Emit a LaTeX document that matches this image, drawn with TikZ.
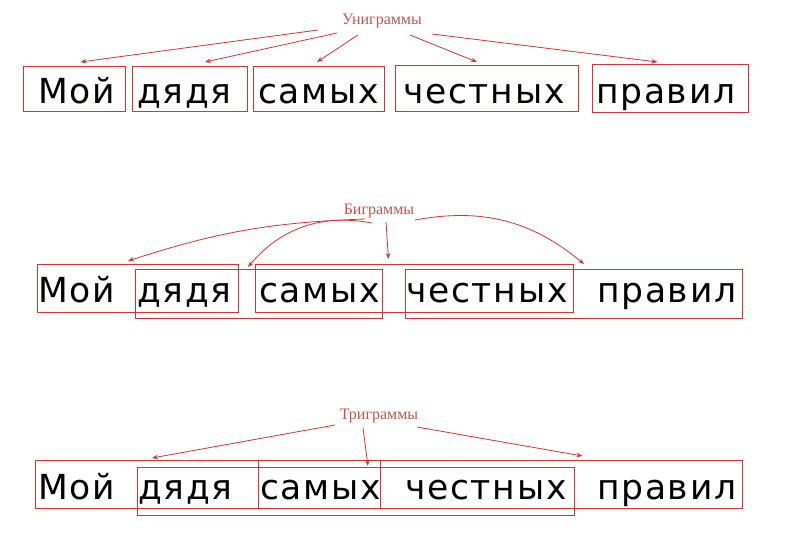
\documentclass[tikz,border=0pt]{standalone}
\usepackage{fontspec}
\setmainfont{Liberation Serif}
\newfontfamily\wordfont[LetterSpace=5]{DejaVu Sans}
\usetikzlibrary{arrows.meta}
\definecolor{boxred}{RGB}{205,55,55}
\definecolor{labelred}{RGB}{192,85,85}
\tikzset{
  word/.style={anchor=base west,inner sep=0pt,font=\wordfont\fontsize{34.5}{40}\selectfont},
  gramlabel/.style={anchor=center,inner sep=0pt,text=labelred,font=\fontsize{16}{18}\selectfont},
  grambox/.style={draw=boxred,line width=0.9pt,anchor=north west,inner sep=0pt},
  gramarrow/.style={draw=boxred,line width=0.8pt,-{Stealth[length=6pt,width=4.5pt]}}
}
\begin{document}
\begin{tikzpicture}[x=1pt,y=-1pt]
    \useasboundingbox (0,0) rectangle (807,535);
    % 第一行: униграммы
    \node[gramlabel] (uni) at (382,21) {Униграммы};
    \node[word] (r1a) at (38,103) {Мой};
    \node[word] (r1b) at (137,103) {дядя};
    \node[word] (r1c) at (258,103) {самых};
    \node[word] (r1d) at (403,103) {честных};
    \node[word] (r1e) at (596,103) {правил};
    \node[grambox,minimum width=102pt,minimum height=45pt] (u1) at (23,66) {};
    \node[grambox,minimum width=115pt,minimum height=45pt] (u2) at (132,66) {};
    \node[grambox,minimum width=131pt,minimum height=45pt] (u3) at (253,66) {};
    \node[grambox,minimum width=183pt,minimum height=46pt] (u4) at (395,65) {};
    \node[grambox,minimum width=156pt,minimum height=48pt] (u5) at (592,64) {};
    \draw[gramarrow] ([xshift=-64pt,yshift=-9pt]uni.center) -- ([xshift=6pt,yshift=4pt]u1.north);%箭头指向每个词
    \draw[gramarrow] ([xshift=-45pt,yshift=-12pt]uni.center) -- ([xshift=15pt,yshift=4pt]u2.north);
    \draw[gramarrow] ([xshift=-24pt,yshift=-14pt]uni.center) -- ([xshift=-2pt,yshift=4pt]u3.north);
    \draw[gramarrow] ([xshift=28pt,yshift=-14pt]uni.center) -- ([xshift=-10pt,yshift=3pt]u4.north);
    \draw[gramarrow] ([xshift=50pt,yshift=-13pt]uni.center) -- ([xshift=-13pt,yshift=2pt]u5.north);
    % 第二行: биграммы
    \node[gramlabel] (bi) at (379,211) {Биграммы};
    \node[word] (r2a) at (38,302) {Мой};
    \node[word] (r2b) at (137,302) {дядя};
    \node[word] (r2c) at (259,302) {самых};
    \node[word] (r2d) at (406,302) {честных};
    \node[word] (r2e) at (597,302) {правил};
    \node[grambox,minimum width=201pt,minimum height=48pt] (b1) at (37,264) {};
    \node[grambox,minimum width=247pt,minimum height=49pt] (b2) at (135,269) {};
    \node[grambox,minimum width=318pt,minimum height=48pt] (b3) at (255,264) {};
    \node[grambox,minimum width=337pt,minimum height=49pt] (b4) at (405,269) {};
    \draw[gramarrow] ([xshift=-14pt,yshift=-8pt]bi.center) to[bend right=8] ([xshift=-10pt,yshift=3pt]b1.north);%弯曲的箭头
    \draw[gramarrow] ([xshift=-7pt,yshift=-12pt]bi.center) to[bend right=30] ([xshift=-11pt,yshift=2pt]b2.north);
    \draw[gramarrow] ([xshift=7pt,yshift=-11pt]bi.center) -- ([xshift=-26pt,yshift=5pt]b3.north);
    \draw[gramarrow] ([xshift=36pt,yshift=-9pt]bi.center) to[bend left=25] ([xshift=10pt,yshift=5pt]b4.north);
    % 第三行: триграммы
    \node[gramlabel] (tri) at (379,416) {Триграммы};
    \node[word] (r3a) at (38,499) {Мой};
    \node[word] (r3b) at (138,499) {дядя};
    \node[word] (r3c) at (260,499) {самых};
    \node[word] (r3d) at (405,499) {честных};
    \node[word] (r3e) at (597,499) {правил};
    \node[grambox,minimum width=345pt,minimum height=48pt] (t1) at (35,460) {};
    \node[grambox,minimum width=437pt,minimum height=48pt] (t2) at (137,467) {};
    \node[grambox,minimum width=484pt,minimum height=48pt] (t3) at (258,460) {};
    \draw[gramarrow] ([xshift=-44pt,yshift=-9pt]tri.center) -- ([xshift=-56pt,yshift=2pt]t1.north);
    \draw[gramarrow] ([xshift=-16pt,yshift=-12pt]tri.center) -- ([xshift=12pt,yshift=1pt]t2.north);
    \draw[gramarrow] ([xshift=38pt,yshift=-11pt]tri.center) -- ([xshift=82pt,yshift=4pt]t3.north);
\end{tikzpicture}
\end{document}
